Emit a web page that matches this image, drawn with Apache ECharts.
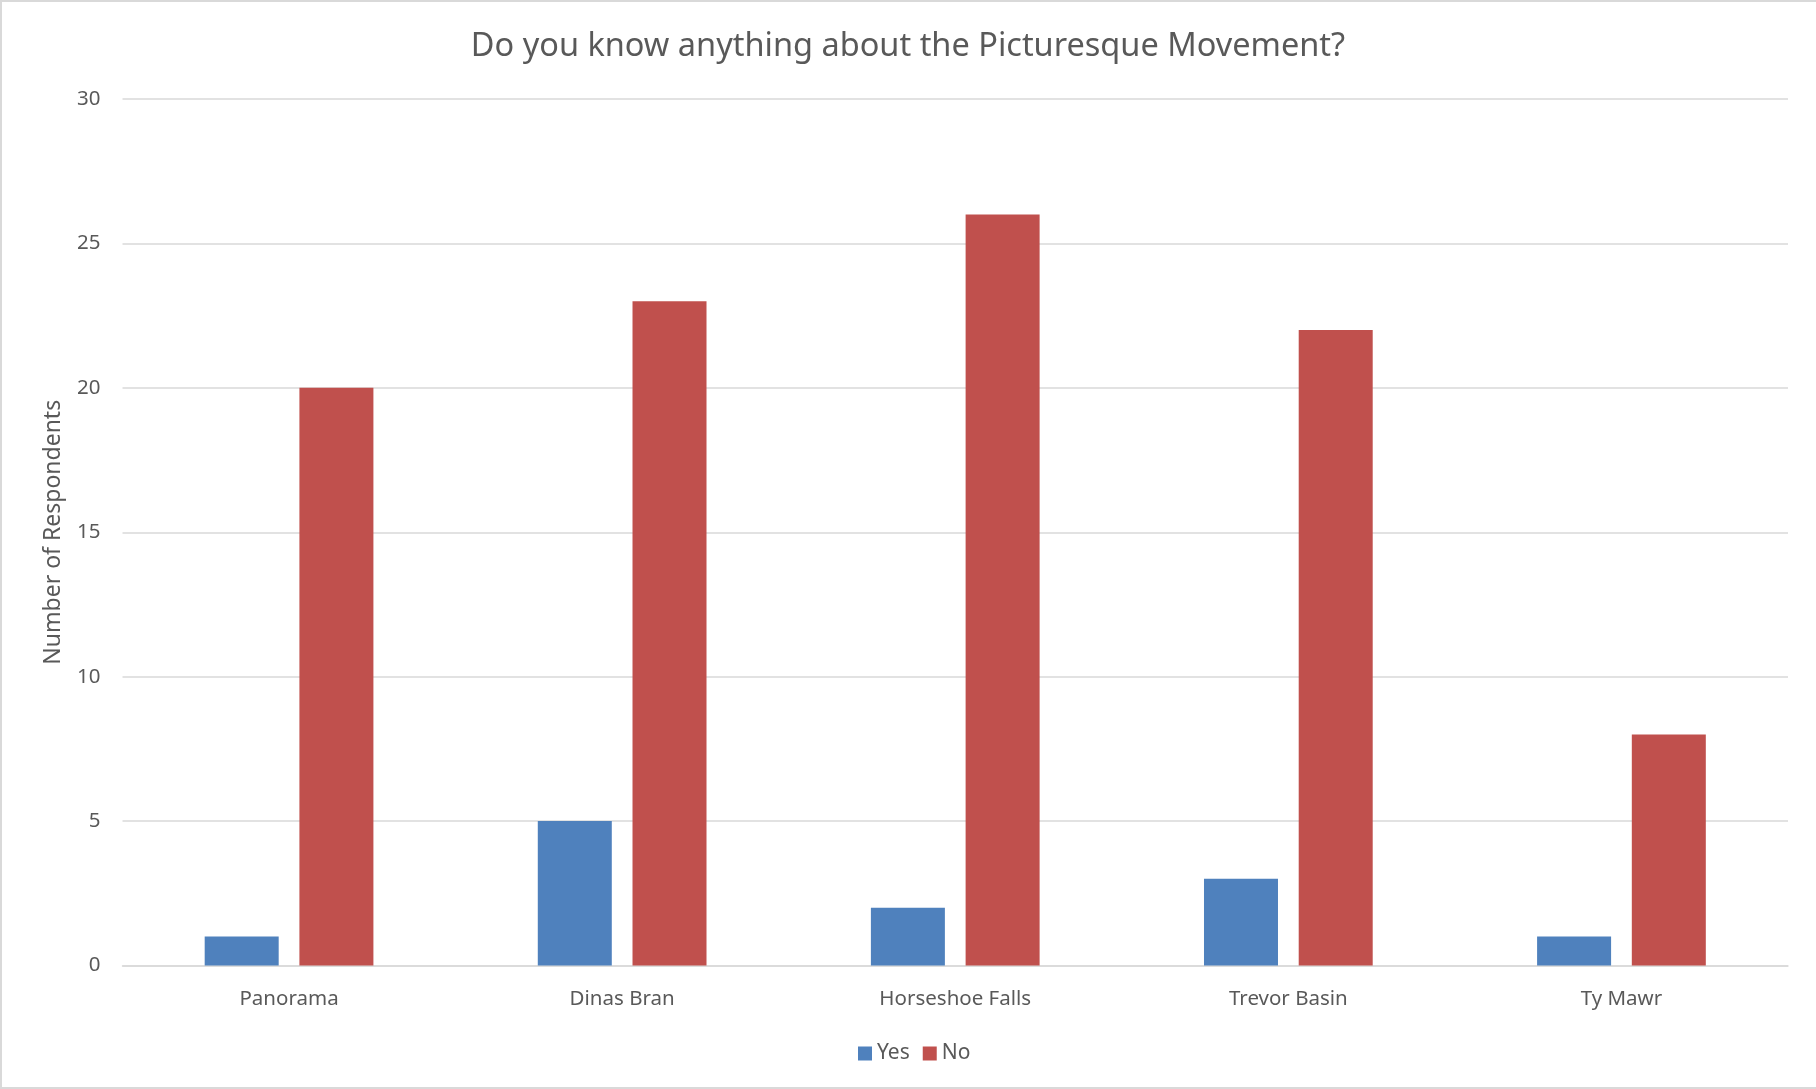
<!DOCTYPE html>
<html>
<head>
<meta charset="utf-8">
<script src="https://cdn.jsdelivr.net/npm/echarts@6/dist/echarts.min.js"></script>
<style>
  html, body { margin: 0; padding: 0; overflow: hidden; background: #fff; }
  #frame { position: absolute; left: 0; top: 0; width: 1822px; height: 1089px; box-sizing: border-box; border: 2px solid #d9d9d9; }
  #chart { position: absolute; left: 0; top: 0; width: 1816px; height: 1089px; }
</style>
</head>
<body>
<div id="frame"></div>
<div id="chart"></div>
<script>
const categories = ['Panorama', 'Dinas Bran', 'Horseshoe Falls', 'Trevor Basin', 'Ty Mawr'];
const yesValues = [1, 5, 2, 3, 1];
const noValues = [20, 23, 26, 22, 8];
const yTicks = [0, 5, 10, 15, 20, 25, 30];

const FONT = 'Noto Sans';
const TEXT = '#595959';

const chart = echarts.init(document.getElementById('chart'));
chart.setOption({
  animation: false,
  backgroundColor: 'transparent',
  textStyle: { fontFamily: FONT, color: TEXT },
  title: {
    text: 'Do you know anything about the Picturesque Movement?',
    left: 'center',
    top: 25,
    textStyle: { fontFamily: FONT, fontSize: 32.5, fontWeight: 'normal', color: TEXT }
  },
  legend: {
    data: ['Yes', 'No'],
    left: 853,
    top: 1038,
    itemWidth: 14,
    itemHeight: 14,
    itemGap: 13,
    icon: 'rect',
    textStyle: { fontFamily: FONT, fontSize: 21, color: TEXT, padding: [0, 0, 0, 0] }
  },
  grid: { left: 122.5, right: 28, top: 99, bottom: 123.5 },
  xAxis: {
    type: 'category',
    data: categories,
    axisLine: { lineStyle: { color: '#d9d9d9', width: 1.5 } },
    axisTick: { show: false },
    axisLabel: { fontFamily: FONT, fontSize: 20.5, color: TEXT, margin: 23 }
  },
  yAxis: {
    type: 'value',
    min: yTicks[0],
    max: yTicks[yTicks.length - 1],
    interval: 5,
    name: 'Number of Respondents',
    nameLocation: 'middle',
    nameGap: 58,
    nameRotate: 90,
    nameTextStyle: { fontFamily: FONT, fontSize: 23, color: TEXT },
    axisLine: { show: false },
    axisTick: { show: false },
    axisLabel: { fontFamily: FONT, fontSize: 20.5, color: TEXT, margin: 22 },
    splitLine: { lineStyle: { color: '#d9d9d9', width: 1.5 } }
  },
  series: [
    {
      name: 'Yes',
      type: 'bar',
      data: yesValues,
      barWidth: 74,
      barGap: '28%',
      itemStyle: { color: '#4f81bd' }
    },
    {
      name: 'No',
      type: 'bar',
      data: noValues,
      barWidth: 74,
      barGap: '28%',
      itemStyle: { color: '#c0504d' }
    }
  ]
});
</script>
</body>
</html>
